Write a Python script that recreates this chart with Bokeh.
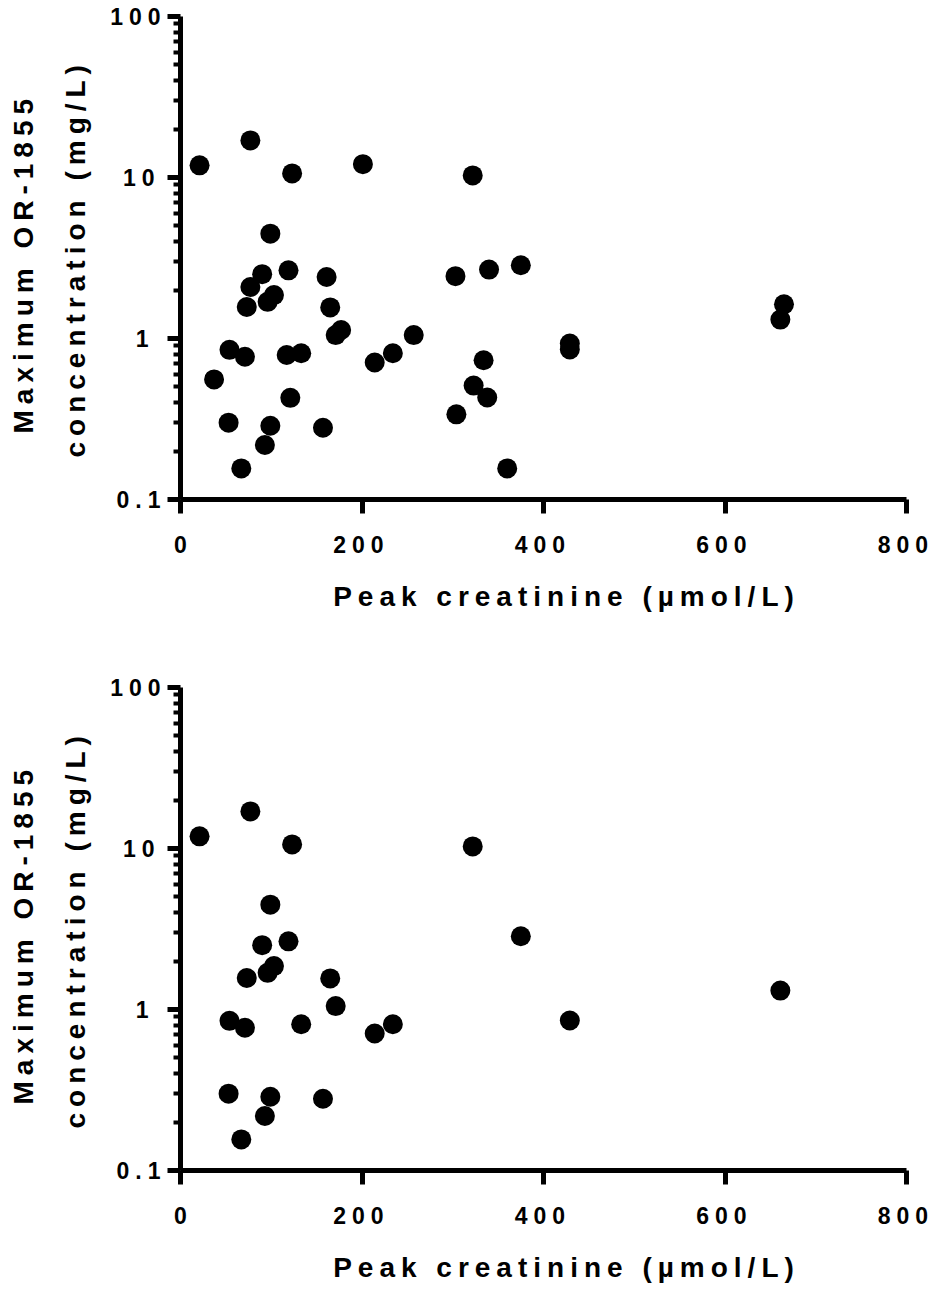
from bokeh.plotting import figure
from bokeh.layouts import column
from bokeh.models import Range1d, FixedTicker, Title, LinearAxis, CustomJSTickFormatter
from bokeh.embed import file_html
from bokeh.resources import INLINE

# ---- data ----
top_creatinine = [21, 77, 123, 201, 322,
                  99, 90, 77, 119, 103, 96, 73, 161, 165, 177, 171, 257,
                  54, 71, 117, 133, 214, 234, 37, 121, 53, 99, 157, 93, 67,
                  303, 340, 375, 334, 323, 338, 304, 360, 429, 429, 665, 661]
top_conc = [11.9, 17.0, 10.6, 12.1, 10.3,
            4.48, 2.51, 2.09, 2.65, 1.86, 1.69, 1.57, 2.41, 1.56, 1.13, 1.05, 1.05,
            0.85, 0.77, 0.79, 0.81, 0.71, 0.81, 0.557, 0.428, 0.30, 0.287, 0.279, 0.218, 0.156,
            2.44, 2.68, 2.85, 0.733, 0.51, 0.43, 0.338, 0.156, 0.93, 0.855, 1.63, 1.31]

bottom_creatinine = [21, 77, 123, 322, 99, 90, 119, 103, 96, 73, 165, 171,
                     54, 71, 133, 214, 234, 53, 99, 157, 93, 67, 375, 661, 429]
bottom_conc = [11.9, 17.0, 10.6, 10.3, 4.48, 2.51, 2.65, 1.86, 1.69, 1.57, 1.56, 1.05,
               0.85, 0.77, 0.81, 0.71, 0.81, 0.30, 0.287, 0.279, 0.218, 0.156, 2.85, 1.31, 0.855]

x_ticks = [0, 200, 400, 600, 800]
x_tick_labels = ["0", "200", "400", "600", "800"]
y_ticks = [0.1, 1, 10, 100]
y_tick_labels = ["0.1", "1", "10", "100"]
y_minor_ticks = [m * d for d in (0.1, 1, 10) for m in range(2, 10)]

x_label = "Peak creatinine (µmol/L)"
y_label_line1 = "Maximum OR-1855"
y_label_line2 = "concentration (mg/L)"

FONT = "Liberation Sans"
SPACING = 6          # CSS letter spacing, px
LABEL_SHIFT = 10.5   # x-units; moves x tick labels left to centre the spaced digits
X_TITLE_AT = 346     # x-units; anchor of the x-axis title


def make_panel(xs, ys, height, top_border, bottom_border):
    p = figure(width=935, height=height,
               x_range=Range1d(0, 800), y_range=Range1d(0.1, 100),
               y_axis_type="log", output_backend="svg", toolbar_location=None,
               min_border_left=180, min_border_right=29,
               min_border_top=top_border, min_border_bottom=bottom_border)
    p.styles = {"letter-spacing": f"{SPACING}px"}
    p.grid.visible = False
    p.outline_line_color = None
    p.background_fill_color = "white"
    p.border_fill_color = "white"

    p.scatter(xs, ys, size=20, fill_color="black", line_color="black", line_width=0)

    # main x axis: line + ticks only
    xa = p.xaxis[0]
    xa.ticker = FixedTicker(ticks=x_ticks, minor_ticks=[])
    xa.formatter = CustomJSTickFormatter(code="return ''")
    xa.axis_line_width = 5
    xa.major_tick_line_width = 5
    xa.major_tick_out = 14
    xa.major_tick_in = 0
    xa.minor_tick_out = 0
    xa.minor_tick_in = 0
    xa.major_label_standoff = 0
    xa.major_label_text_font_size = "1px"

    # label-only x axis on a slightly shifted range (first label sits at the range start)
    p.extra_x_ranges = {"xlab": Range1d(LABEL_SHIFT, 800 + LABEL_SHIFT)}
    lab_ticks = [max(t, LABEL_SHIFT) for t in x_ticks]
    la = LinearAxis(x_range_name="xlab", ticker=FixedTicker(ticks=lab_ticks, minor_ticks=[]))
    la.major_label_overrides = {t: s for t, s in zip(lab_ticks, x_tick_labels)}
    la.axis_line_color = None
    la.major_tick_line_color = None
    la.minor_tick_line_color = None
    la.major_tick_out = 0
    la.major_tick_in = 0
    la.minor_tick_out = 0
    la.minor_tick_in = 0
    la.major_label_standoff = 22
    la.major_label_text_font = FONT
    la.major_label_text_font_style = "bold"
    la.major_label_text_font_size = "23px"
    la.major_label_text_color = "black"
    p.add_layout(la, "below")

    # x-axis title, drawn as the single label of a bare axis
    ta = LinearAxis(ticker=FixedTicker(ticks=[X_TITLE_AT], minor_ticks=[]))
    ta.major_label_overrides = {X_TITLE_AT: x_label}
    ta.axis_line_color = None
    ta.major_tick_line_color = None
    ta.minor_tick_line_color = None
    ta.major_tick_out = 0
    ta.major_tick_in = 0
    ta.minor_tick_out = 0
    ta.minor_tick_in = 0
    ta.major_label_standoff = 25
    ta.major_label_text_font = FONT
    ta.major_label_text_font_style = "bold"
    ta.major_label_text_font_size = "28px"
    ta.major_label_text_color = "black"
    p.add_layout(ta, "below")

    ya = p.yaxis[0]
    ya.ticker = FixedTicker(ticks=y_ticks, minor_ticks=y_minor_ticks)
    ya.major_label_overrides = {t: s for t, s in zip(y_ticks, y_tick_labels)}
    ya.axis_line_width = 5
    ya.major_tick_line_width = 5
    ya.minor_tick_line_width = 4
    ya.major_tick_out = 13
    ya.major_tick_in = 0
    ya.minor_tick_out = 7
    ya.minor_tick_in = 0
    ya.major_label_standoff = 19
    ya.major_label_text_font = FONT
    ya.major_label_text_font_style = "bold"
    ya.major_label_text_font_size = "23px"
    ya.major_label_text_color = "black"

    p.add_layout(Title(text=y_label_line2, align="left", offset=42, standoff=33,
                       text_font=FONT, text_font_style="bold", text_font_size="28px",
                       text_color="black"), "left")
    p.add_layout(Title(text=y_label_line1, align="left", offset=66, standoff=6,
                       text_font=FONT, text_font_style="bold", text_font_size="28px",
                       text_color="black"), "left")
    return p


p1 = make_panel(top_creatinine, top_conc, 671, 16, 172)
p2 = make_panel(bottom_creatinine, bottom_conc, 621, 16, 122)

layout = column(p1, p2, spacing=0)
open("out.html", "w").write(file_html(layout, INLINE))
